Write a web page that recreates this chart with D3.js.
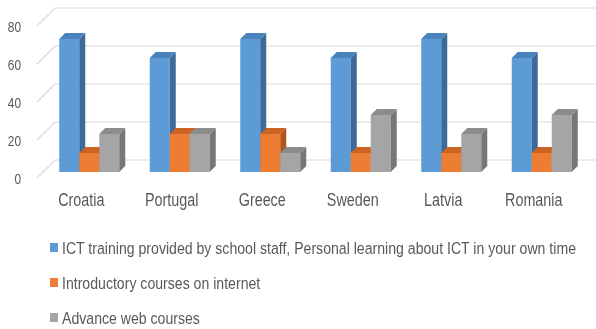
<!DOCTYPE html>
<html>
<head>
<meta charset="utf-8">
<script src="https://cdn.jsdelivr.net/npm/d3@7"></script>
<style>
  html, body { margin: 0; padding: 0; background: #fff; }
  svg { display: block; }
  text { font-family: "Liberation Sans", Arial, sans-serif; fill: #595959; }
</style>
</head>
<body>
<svg id="chart" width="596" height="329"></svg>
<script>
// Countries along the category axis
const countries = ["Croatia", "Portugal", "Greece", "Sweden", "Latvia", "Romania"];
// Series names shown in the legend
const seriesNames = [
  "ICT training provided by school staff, Personal learning about ICT in your own time",
  "Introductory courses on internet",
  "Advance web courses"
];
// Values per country for each series
const ictTraining = [70, 60, 70, 60, 70, 60];
const introCourses = [10, 20, 20, 10, 10, 10];
const advancedWeb = [20, 20, 10, 30, 20, 30];
// Value axis ticks
const yTicks = [0, 20, 40, 60, 80];

const seriesValues = [ictTraining, introCourses, advancedWeb];
const faceColors = [
  { front: "#5b9bd5", top: "#4a83bb", side: "#3c6b98" },
  { front: "#ed7d31", top: "#cd6420", side: "#b0561c" },
  { front: "#a5a5a5", top: "#8c8c8c", side: "#777777" }
];
// Horizontal squeeze giving the labels a condensed look
const condense = 0.82;

const svg = d3.select("#chart");
svg.append("defs").append("filter").attr("id", "soft")
  .append("feGaussianBlur").attr("stdDeviation", 0.6);
const root = svg.append("g").attr("filter", "url(#soft)");

// Places a condensed text label at (x, y)
function label(parent, x, yPos, str, size, anchor) {
  parent.append("g").attr("transform", `translate(${x},${yPos}) scale(${condense},1)`)
    .append("text").attr("text-anchor", anchor).attr("font-size", size).text(str);
}

// Oblique projection: depth shifts right and up by equal amounts
const wallDepth = 18, barFront = 6, barBack = 12;
const x0 = d3.scaleBand().domain(countries).range([38, 581]).paddingInner(0.337).paddingOuter(0.1685);
const x1 = d3.scaleBand().domain(d3.range(seriesNames.length)).range([0, x0.bandwidth()]);
const y = d3.scaleLinear().domain([0, 80]).range([178, 26]);
const proj = (px, v, d) => [px + d, y(v) - d];

// Gridlines: floor-side diagonal plus back-wall horizontal
const grid = root.append("g");
yTicks.forEach(t => {
  const a = proj(x0.range()[0] - 1, t, 0);
  const b = proj(x0.range()[0] - 1, t, wallDepth);
  grid.append("path")
    .attr("d", `M${a[0]},${a[1]}L${b[0]},${b[1]}L596,${b[1]}`)
    .attr("fill", "none").attr("stroke", "#d9d9d9").attr("stroke-width", 1.2);
});

// Value axis labels
const yAxisG = root.append("g");
yTicks.forEach(t => label(yAxisG, 21, y(t) + 6, t, 14.5, "end"));

// 3D columns, drawn left to right so later faces overlap earlier sides
const bars = root.append("g");
countries.forEach((c, i) => {
  seriesValues.forEach((vals, s) => {
    const v = vals[i];
    const xl = x0(c) + x1(s), xr = xl + x1.bandwidth();
    const col = faceColors[s];
    const p = (px, val, d) => proj(px, val, d).join(",");
    // front face
    bars.append("path")
      .attr("d", `M${p(xl, 0, barFront)}L${p(xr, 0, barFront)}L${p(xr, v, barFront)}L${p(xl, v, barFront)}Z`)
      .attr("fill", col.front);
    // side face
    bars.append("path")
      .attr("d", `M${p(xr, 0, barFront)}L${p(xr, 0, barBack)}L${p(xr, v, barBack)}L${p(xr, v, barFront)}Z`)
      .attr("fill", col.side);
    // top face
    bars.append("path")
      .attr("d", `M${p(xl, v, barFront)}L${p(xr, v, barFront)}L${p(xr, v, barBack)}L${p(xl, v, barBack)}Z`)
      .attr("fill", col.top);
  });
});

// Category labels
const xAxisG = root.append("g");
countries.forEach(c => label(xAxisG, x0(c) + x0.bandwidth() / 2 - 2, 206, c, 17.5, "middle"));

// Legend
const legend = root.append("g");
seriesNames.forEach((name, s) => {
  const ly = 248 + s * 35;
  legend.append("rect").attr("x", 50).attr("y", ly - 5).attr("width", 8).attr("height", 9)
    .attr("fill", faceColors[s].front);
  label(legend, 62, ly + 6, name, 17.2, "start");
});
</script>
</body>
</html>
